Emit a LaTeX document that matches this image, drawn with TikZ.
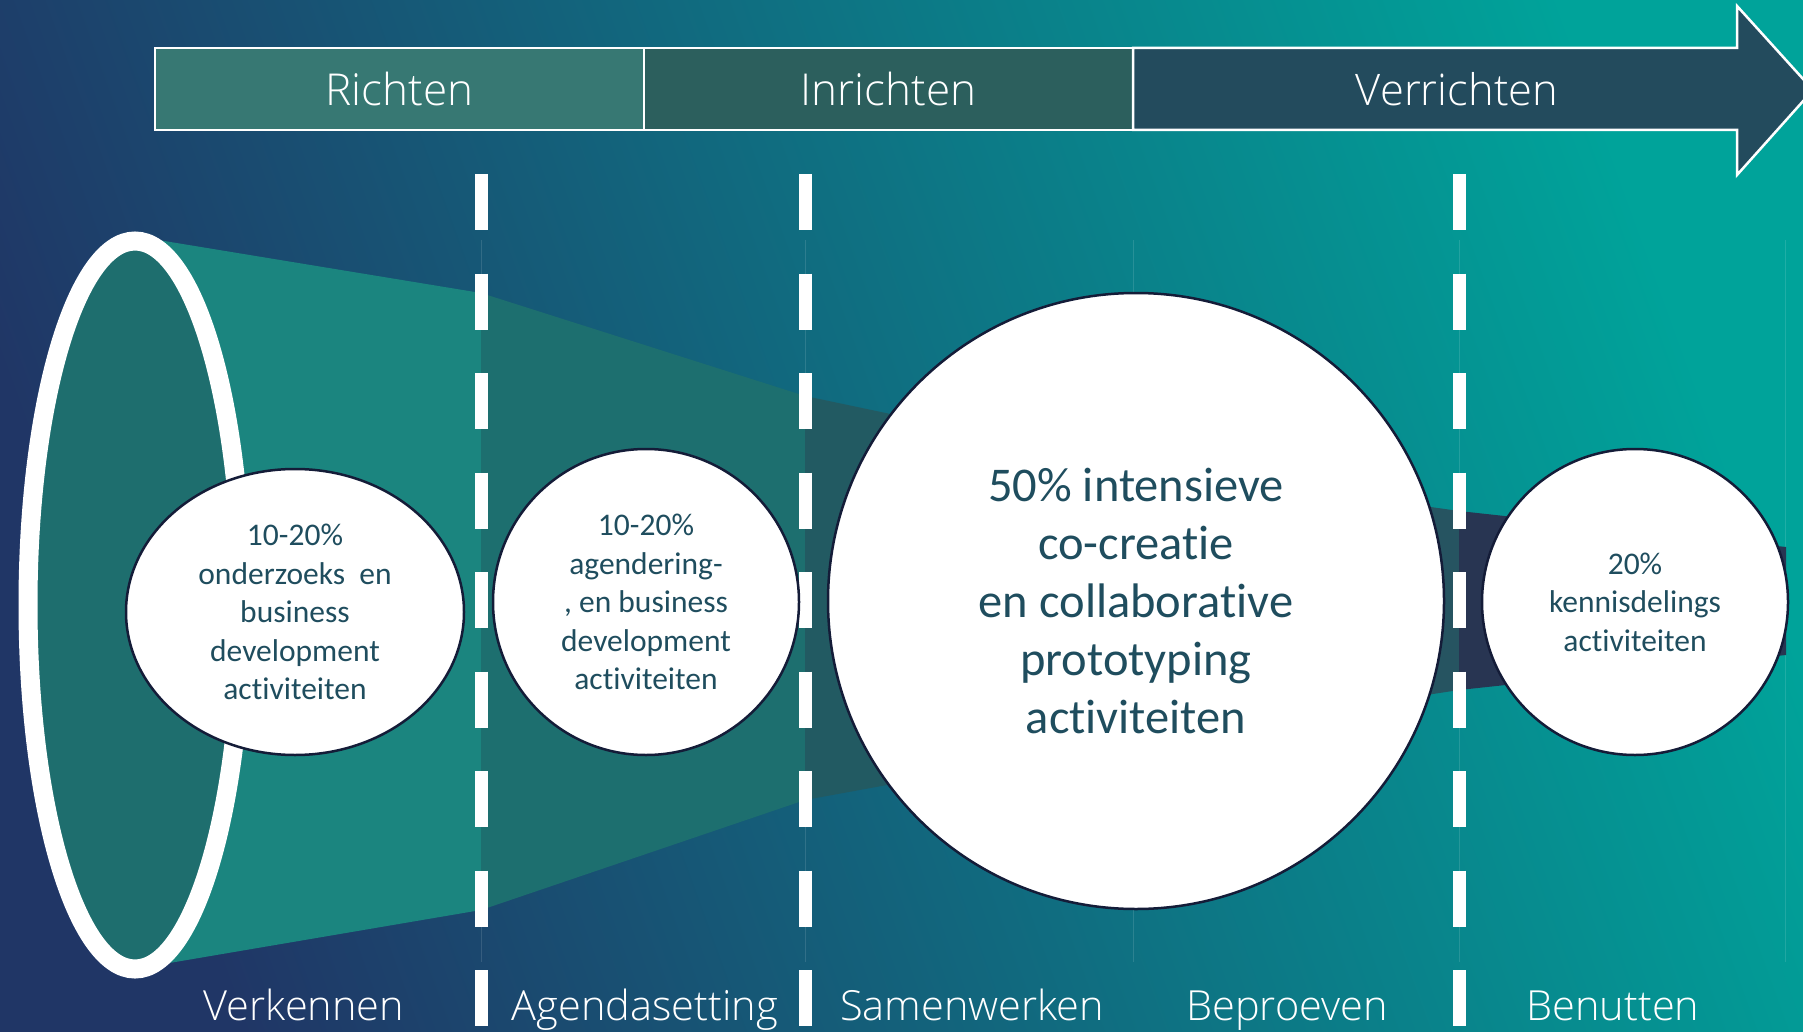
\documentclass[tikz,border=0pt]{standalone}
\usepackage{fontspec}
\setmainfont{Carlito}[Ligatures=NoCommon]
\IfFontExistsTF{Open Sans Light}{\newfontfamily\lightfont{Open Sans Light}}{%
  \IfFontExistsTF{Lato Light}{\newfontfamily\lightfont{Lato Light}}{\newfontfamily\lightfont{Open Sans}}}
\usetikzlibrary{shapes.geometric, positioning}

\definecolor{bgdark}{HTML}{203666}
\definecolor{bgmid}{HTML}{126A80}
\definecolor{bgteal}{HTML}{00A39A}
\definecolor{richtenfill}{HTML}{377873}
\definecolor{inrichtenfill}{HTML}{2C5F5D}
\definecolor{verrichtenfill}{HTML}{234B5D}
\definecolor{funnelA}{HTML}{1B857F}
\definecolor{funnelB}{HTML}{1D6F6F}
\definecolor{funnelC}{HTML}{225A62}
\definecolor{funnelD}{HTML}{265461}
\definecolor{funnelE}{HTML}{283552}
\definecolor{mouthfill}{HTML}{1E6E6E}
\definecolor{circletext}{HTML}{1F4D5E}
\definecolor{circleline}{HTML}{141C38}

\begin{document}
\begin{tikzpicture}[
    x=1pt, y=-1pt,
    phase/.style={draw=white, line width=2.5pt, minimum width=489pt, minimum height=82pt, text=white, font=\lightfont\fontsize{44}{52}\selectfont},
    phasetext/.style={text=white, font=\lightfont\fontsize{43.5}{52}\selectfont},
    stagelabel/.style={anchor=base, text=white, font=\lightfont\fontsize{41.5}{49}\selectfont},
    divider/.style={draw=white, line width=13pt, dash pattern=on 56pt off 43.5pt},
    guide/.style={draw=white, opacity=0.12, line width=1pt},
    activity/.style={circle, draw=circleline, line width=2.5pt, fill=white, inner sep=0pt, align=center, text=circletext, font=\fontsize{31.5}{38.6}\selectfont},
    bigactivity/.style={activity, font=\fontsize{48.5}{58}\selectfont}
]

    % Background
    \useasboundingbox (0,0) rectangle (1803,1032);
    \clip (0,0) rectangle (1803,1032);
    \shade[bottom color=bgdark, middle color=bgmid, top color=bgteal, shading angle=-70] (0,0) rectangle (1803,1032);

    % Faint column guides
    \draw[guide] (481,240) -- (481,962);
    \draw[guide] (805,240) -- (805,962);
    \draw[guide] (1133,240) -- (1133,962);
    \draw[guide] (1459,240) -- (1459,962);
    \draw[guide] (1785,240) -- (1785,962);

    % Funnel
    \fill[funnelA] (140,237) -- (481,293) -- (481,910) -- (140,968) -- cycle;
    \fill[funnelB] (481,293) -- (805,396) -- (805,800) -- (481,910) -- cycle;
    \fill[funnelC] (805,396) -- (1133,465) -- (1133,740) -- (805,800) -- cycle;
    \fill[funnelD] (1133,465) -- (1459,511) -- (1459,690) -- (1133,740) -- cycle;
    \fill[funnelE] (1459,511) -- (1786,547) -- (1786,655) -- (1459,690) -- cycle;

    % Funnel mouth
    \draw[draw=white, line width=19pt, fill=mouthfill] (135,605) ellipse [x radius=107, y radius=364];

    % Stage dividers
    \draw[divider] (481,174) -- (481,1032);
    \draw[divider] (805,174) -- (805,1032);
    \draw[divider] (1459,174) -- (1459,1032);

    % Phase banner
    \node[phase, fill=richtenfill] (richten) at (399.5,89) {Richten};
    \node[phase, fill=inrichtenfill] (inrichten) at (888.5,89) {Inrichten};
    \filldraw[draw=white, line width=2.5pt, fill=verrichtenfill] (1133,48) -- (1737,48) -- (1737,6) -- (1813,90) -- (1737,175) -- (1737,130) -- (1133,130) -- cycle;
    \node[phasetext] (verrichten) at (1457,89) {Verrichten};

    % Activities
    \node[activity, ellipse, minimum width=338pt, minimum height=286pt] (onderzoek) at (295,612) {10-20\%\\onderzoeks\ \ en\\business\\development\\activiteiten};
    \node[activity, minimum size=306pt] (agendering) at (646,602) {10-20\%\\agendering-\\, en business\\development\\activiteiten};
    \node[bigactivity, minimum size=616pt] (cocreatie) at (1136,601) {50\% intensieve\\co-creatie\\en collaborative\\prototyping\\activiteiten};
    \node[activity, minimum size=306pt] (kennisdeling) at (1635,602) {20\%\\kennisdelings\\activiteiten};

    % Stages
    \node[stagelabel] (verkennen) at (304,1020) {Verkennen};
    \node[stagelabel] (agendasetting) at (645,1020) {Agendasetting};
    \node[stagelabel] (samenwerken) at (972,1020) {Samenwerken};
    \node[stagelabel] (beproeven) at (1287,1020) {Beproeven};
    \node[stagelabel] (benutten) at (1613,1020) {Benutten};

\end{tikzpicture}
\end{document}
